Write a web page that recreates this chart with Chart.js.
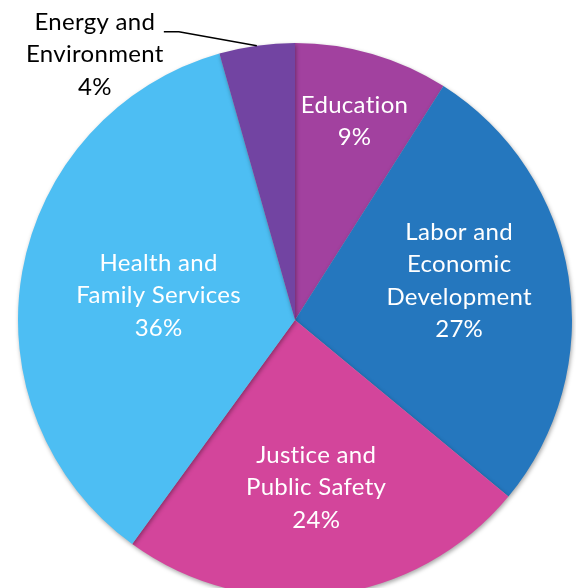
<!DOCTYPE html>
<html>
<head>
<meta charset="utf-8">
<script src="https://cdn.jsdelivr.net/npm/chart.js@4.4.0/dist/chart.umd.min.js"></script>
<style>
    html, body { margin: 0; padding: 0; background: #fff; overflow: hidden; }
    #wrap { position: relative; width: 576px; height: 640px; }
</style>
</head>
<body>
<div id="wrap"><canvas id="budgetChart"></canvas></div>
<script>
const categories = [
    ['Education'],
    ['Labor and', 'Economic', 'Development'],
    ['Justice and', 'Public Safety'],
    ['Health and', 'Family Services'],
    ['Energy and', 'Environment']
];
const shares = [9, 27, 24, 35.6, 4.4];
const sliceColors = ['#a2419f', '#2577be', '#d3459b', '#4dbef3', '#7244a2'];

// label placement (fraction of radius + vertical nudge), styling only
const labelRadius = [0.77, 0.6, 0.61, 0.5, null];
const labelNudgeY = [6, -13, 0, 0, 0];

const labelPlugin = {
    id: 'sliceLabels',
    beforeDatasetsDraw(chart) {
        const ctx = chart.ctx;
        ctx.save();
        ctx.shadowColor = 'rgba(0,0,0,0.35)';
        ctx.shadowBlur = 4;
        ctx.shadowOffsetX = 1;
        ctx.shadowOffsetY = 2;
    },
    afterDatasetsDraw(chart) {
        const ctx = chart.ctx;
        ctx.restore();
        const meta = chart.getDatasetMeta(0);
        ctx.save();
        ctx.font = '24px Lato';
        ctx.letterSpacing = '0.3px';
        ctx.textAlign = 'center';
        ctx.textBaseline = 'middle';
        const lineH = 32.5;
        meta.data.forEach(function(arc, i) {
            const p = arc.getProps(['x', 'y', 'startAngle', 'endAngle', 'outerRadius']);
            const mid = (p.startAngle + p.endAngle) / 2;
            const lines = categories[i].concat([Math.round(shares[i]) + '%']);
            let cx, cy;
            if (labelRadius[i] !== null) {
                cx = p.x + Math.cos(mid) * p.outerRadius * labelRadius[i];
                cy = p.y + Math.sin(mid) * p.outerRadius * labelRadius[i] + labelNudgeY[i];
                ctx.fillStyle = '#ffffff';
            } else {
                // outside label with leader line
                const ex = p.x + Math.cos(mid) * p.outerRadius;
                const ey = p.y + Math.sin(mid) * p.outerRadius;
                const kx = ex - 78, ky = ey - 14;
                ctx.strokeStyle = '#000';
                ctx.lineWidth = 1.5;
                ctx.beginPath();
                ctx.moveTo(ex, ey);
                ctx.lineTo(kx, ky);
                ctx.lineTo(kx - 15, ky);
                ctx.stroke();
                cx = kx - 84;
                cy = ky + 23;
                ctx.fillStyle = '#000000';
            }
            const top = cy - (lines.length - 1) * lineH / 2;
            lines.forEach(function(t, j) {
                ctx.fillText(t, cx, top + j * lineH);
            });
        });
        ctx.restore();
    }
};

const chart = new Chart(document.getElementById('budgetChart'), {
    type: 'pie',
    data: {
        labels: categories.map(c => c.join(' ')),
        datasets: [{
            data: shares,
            backgroundColor: sliceColors,
            borderWidth: 0
        }]
    },
    options: {
        responsive: true,
        maintainAspectRatio: false,
        animation: false,
        layout: { padding: { left: 18, right: 4, top: 43, bottom: 43 } },
        plugins: {
            legend: { display: false },
            tooltip: { enabled: false }
        }
    },
    plugins: [labelPlugin]
});
</script>
</body>
</html>
